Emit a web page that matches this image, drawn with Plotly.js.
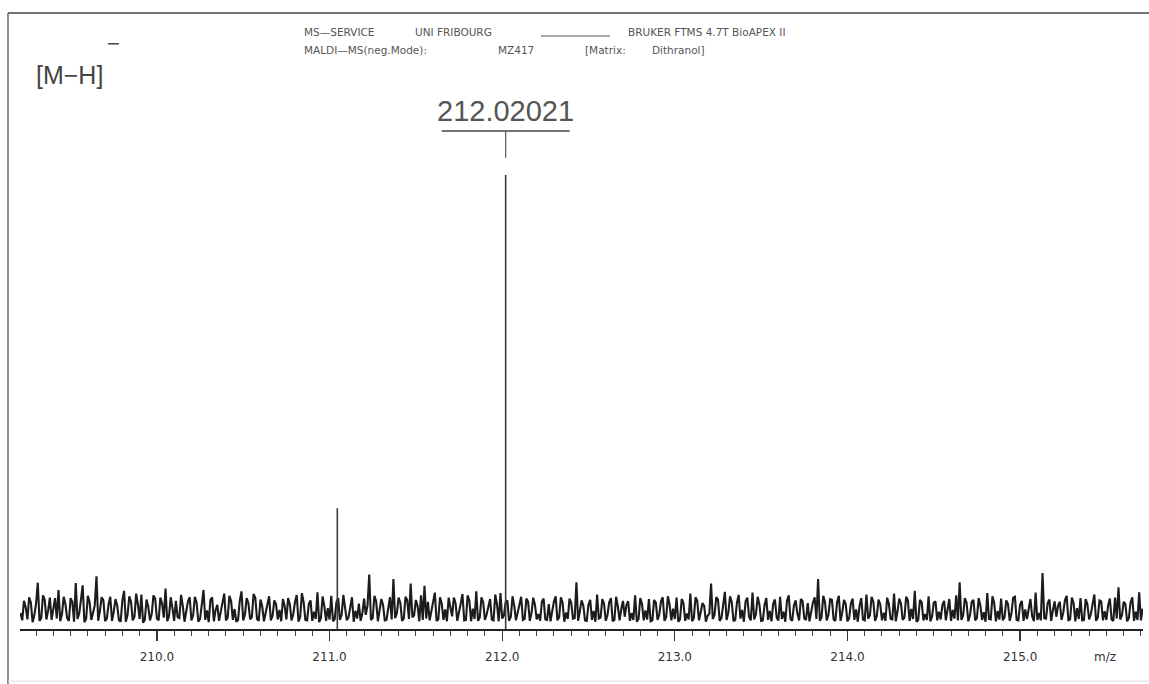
<!DOCTYPE html>
<html>
<head>
<meta charset="utf-8">
<script src="https://cdn.plot.ly/plotly-3.0.1.min.js"></script>
<style>html,body{margin:0;padding:0;background:#fff;}#chart{width:1149px;height:684px;}</style>
</head>
<body>
<div id="chart"></div>
<script>
// ---- data ----
// baseline noise: samples every 0.02 m/z from 209.21, plus the samples in between (209.22, 209.24, ...)
const mzStart = 209.21;
const mzStep = 0.02;
const noise = [
  3.5,6.2,2.1,5.8,3.0,10.2,2.4,6.5,4.1,2.0,6.8,8.6,3.2,5.5,1.8,6.0,10.1,3.4,9.6,2.2,5.9,3.6,11.6,4.0,6.3,
  2.3,7.1,3.8,5.2,1.6,8.4,3.1,6.0,2.7,5.4,7.6,2.0,4.9,3.3,6.7,1.9,5.6,8.9,2.8,4.6,6.2,2.4,5.1,3.9,7.0,
  3.0,5.8,2.2,8.6,4.1,6.4,1.7,5.3,3.6,7.8,2.5,6.1,4.4,2.0,8.3,3.2,5.7,2.6,6.9,1.8,5.0,3.7,7.2,2.9,5.5,
  4.2,6.6,2.1,5.4,3.3,7.5,2.7,5.9,1.9,6.3,3.8,8.1,2.4,5.0,4.6,7.3,2.2,6.8,3.1,5.2,2.6,7.0,4.0,5.6,3.4,
  3.1,12.0,2.4,6.1,3.9,5.3,2.0,7.0,11.0,3.5,5.8,2.3,6.4,10.0,3.0,5.1,7.4,9.5,6.0,3.7,8.0,2.1,5.6,4.3,6.9,
  2.8,5.7,3.4,7.7,2.0,6.2,4.5,8.3,2.5,5.9,3.2,6.6,1.9,5.4,7.9,3.0,6.3,2.7,5.1,3.8,7.1,2.2,6.0,3.5,5.3,
  3.3,6.0,2.1,5.5,4.2,7.2,2.6,5.8,3.6,6.7,2.3,10.3,3.9,5.2,1.8,6.4,4.0,7.6,2.5,5.6,3.1,6.8,2.0,5.0,4.4,
  2.7,6.1,3.5,7.4,2.2,5.5,4.1,6.6,1.9,5.8,3.2,7.0,2.6,5.3,4.5,6.9,2.1,5.7,3.4,7.8,2.4,6.2,3.7,5.1,2.9,
  10.0,3.1,6.5,2.4,8.2,3.6,5.9,2.0,7.5,4.2,6.1,2.7,8.0,3.3,5.4,1.9,6.8,4.0,5.6,2.5,7.1,3.8,6.3,2.2,5.2,
  3.4,6.6,2.3,5.7,4.1,7.0,11.0,2.6,5.9,3.2,6.4,1.8,7.3,3.7,5.5,2.4,6.7,4.3,5.1,2.1,7.6,3.0,6.0,2.8,5.4,
  3.6,6.9,2.2,7.8,3.9,5.6,2.5,6.3,4.4,8.4,2.0,5.9,3.3,7.2,2.7,6.1,3.8,5.3,1.9,6.6,4.2,7.4,10.3,2.9,5.8,
  3.1,6.4,2.4,5.2,3.7,7.9,2.1,5.8,4.0,6.7,2.6,5.5,3.4,7.1,1.9,6.2,4.3,5.0,2.8,8.0,3.5,12.3,2.3,6.5,4.1,
  2.7,6.0,3.6,7.3,2.2,5.7,4.6,6.8,2.0,5.4,3.3,7.6,2.5,6.1,3.9,5.2,2.1,6.9,9.2,3.0,5.5,2.4,7.0,3.8,8.1,
  4.5
];
const noiseMid = [
  1.9,4.8,7.0,1.5,5.6,1.8,7.4,2.1,6.9,4.5,2.3,1.7,7.1,2.4,6.8,1.6,2.2,6.4,1.5,7.3,2.0,5.2,1.8,7.0,1.7,
  5.4,1.8,6.6,2.0,6.3,1.6,7.2,1.9,7.8,2.2,1.4,6.5,1.9,7.4,2.3,6.9,2.5,1.7,7.0,1.8,2.6,7.5,1.6,6.1,1.9,
  7.1,1.6,5.9,2.0,1.5,7.0,4.2,1.8,5.7,1.9,7.3,2.0,1.6,6.2,1.9,6.8,2.1,7.7,2.2,6.5,1.7,5.4,1.9,6.3,2.1,
  1.7,5.1,6.8,1.9,6.0,1.6,7.9,2.0,5.5,1.8,2.2,1.5,7.2,1.8,2.1,1.7,5.9,2.0,7.5,1.9,5.3,1.6,2.3,1.8,6.7,
  5.2,2.0,7.3,1.7,6.6,1.9,5.0,2.1,2.4,6.9,1.8,7.1,2.2,2.6,6.4,1.7,2.0,2.3,1.9,6.2,1.8,7.0,2.0,1.7,4.8,
  6.9,1.8,5.6,1.9,7.4,1.7,2.2,1.8,7.0,2.0,5.3,2.1,7.6,1.7,2.3,5.9,1.8,7.2,1.9,5.5,2.0,6.7,1.8,6.9,2.1,
  1.8,6.7,2.0,1.7,6.1,1.9,7.0,1.6,2.2,5.8,2.4,1.8,6.3,1.9,5.4,2.0,1.6,2.3,6.6,1.8,5.9,1.7,7.1,1.9,6.2,
  5.3,1.8,2.0,1.6,6.8,1.9,2.1,1.7,6.4,2.0,6.1,1.8,7.2,1.9,2.2,1.6,6.6,1.8,2.1,1.7,7.0,1.9,5.7,1.6,3.4,
  2.2,7.0,1.8,6.1,2.0,7.2,1.7,5.8,2.3,1.6,6.9,1.9,2.1,7.1,1.8,5.3,2.0,1.7,6.5,1.9,2.2,1.6,7.4,1.8,6.3,
  1.9,6.2,2.0,1.7,5.8,2.2,1.8,7.3,1.9,6.6,2.1,5.9,1.8,6.4,1.7,5.6,2.0,1.6,6.8,1.9,2.3,7.1,1.8,6.5,1.9,
  1.8,5.5,2.1,1.7,6.7,2.0,7.1,1.8,2.2,1.6,6.4,1.9,2.0,1.7,5.8,1.9,2.1,6.2,4.9,1.8,2.3,1.9,2.0,6.8,1.7,
  6.0,1.9,6.8,2.0,1.6,2.2,7.2,1.7,2.1,1.9,6.3,1.8,6.9,2.0,5.4,1.8,2.2,6.6,1.7,2.0,1.9,2.4,5.7,1.8,6.1,
  5.1,2.0,6.4,1.8,6.9,1.7,2.2,1.9,6.6,2.1,5.8,1.8,6.3,1.9,2.0,6.7,1.8,2.3,2.1,6.0,1.7,5.9,1.8,2.0,1.9
];
// resolved peaks (m/z, relative intensity)
const peakMz = [211.045, 212.02021];
const peakInt = [26.6, 100];
const labelText = "212.02021";
// axis
const xRange = [209.207, 215.712];
const tickVals = [210, 211, 212, 213, 214, 215];
const tickText = ["210.0", "211.0", "212.0", "213.0", "214.0", "215.0"];

// ---- build traces ----
const noiseX = [], noiseY = [];
noise.forEach((v, i) => {
  noiseX.push(mzStart + i * mzStep); noiseY.push(v);
  if (i < noiseMid.length) { noiseX.push(mzStart + (i + 0.5) * mzStep); noiseY.push(noiseMid[i]); }
});
const stickX = [], stickY = [];
peakMz.forEach((m, i) => { stickX.push(m, m, null); stickY.push(0, peakInt[i], null); });

const traces = [
  {x: noiseX, y: noiseY, type: 'scatter', mode: 'lines',
   line: {color: '#1c1c1c', width: 2.1}, hoverinfo: 'skip', showlegend: false},
  {x: stickX, y: stickY, type: 'scatter', mode: 'lines',
   line: {color: '#3a3a3a', width: 1.6}, hoverinfo: 'skip', showlegend: false}
];

const txtFont = {family: 'DejaVu Sans, Liberation Sans, sans-serif', size: 10.5, color: '#555'};
const layout = {
  width: 1149, height: 684,
  margin: {l: 20, r: 6, t: 150, b: 55, pad: 0},
  paper_bgcolor: '#ffffff', plot_bgcolor: '#ffffff',
  showlegend: false,
  xaxis: {
    range: xRange, showgrid: false, zeroline: false,
    showline: true, linecolor: '#222', linewidth: 1.6,
    ticks: 'outside', ticklen: 10, tickwidth: 1.2, tickcolor: '#333',
    tickvals: tickVals, ticktext: tickText,
    ticklabelstandoff: 6,
    tickfont: {family: 'DejaVu Sans, Liberation Sans, sans-serif', size: 12, color: '#333'},
    minor: {dtick: 0.1, tick0: 210, ticks: 'outside', ticklen: 5, tickwidth: 1, tickcolor: '#444'}
  },
  yaxis: {visible: false, range: [0, 105.5], fixedrange: true},
  shapes: [
    // frame lines of the printed page
    {type: 'line', xref: 'paper', yref: 'paper', x0: -0.0107, x1: 1.006, y0: 1.286, y1: 1.286,
     line: {color: '#444', width: 1.5}},
    {type: 'line', xref: 'paper', yref: 'paper', x0: -0.0107, x1: -0.0107, y0: 1.286, y1: -0.115,
     line: {color: '#555', width: 1.3}},
    {type: 'line', xref: 'paper', yref: 'paper', x0: -0.0107, x1: 1.006, y0: -0.109, y1: -0.109,
     line: {color: '#ddd', width: 1}},
    // label underline and leader tick for the main peak
    {type: 'line', xref: 'x', yref: 'paper', xsizemode: 'pixel', xanchor: peakMz[1], x0: -64, x1: 64,
     y0: 1.0397, y1: 1.0397, line: {color: '#444', width: 1.5}},
    {type: 'line', xref: 'x', yref: 'paper', x0: peakMz[1], x1: peakMz[1], y0: 1.0397, y1: 0.984,
     line: {color: '#555', width: 1.2}},
    // header blank line
    {type: 'line', xref: 'paper', yref: 'paper', x0: 0.4639, x1: 0.5254, y0: 1.238, y1: 1.238,
     line: {color: '#555', width: 1}}
  ],
  annotations: [
    {text: labelText, xref: 'x', yref: 'paper', x: peakMz[1], y: 1.044, xanchor: 'center', yanchor: 'bottom',
     showarrow: false, font: {family: 'Liberation Sans, sans-serif', size: 29, color: '#555'}},
    {text: '[M−H]', xref: 'paper', yref: 'paper', x: 0.0125, y: 1.157, xanchor: 'left', yanchor: 'middle',
     showarrow: false, font: {family: 'Liberation Sans, sans-serif', size: 25, color: '#444'}},
    {text: '−', xref: 'paper', yref: 'paper', x: 0.0755, y: 1.222, xanchor: 'left', yanchor: 'middle',
     showarrow: false, font: {family: 'Liberation Sans, sans-serif', size: 22, color: '#444'}},
    {text: 'MS—SERVICE', xref: 'paper', yref: 'paper', x: 0.2511, y: 1.2463, xanchor: 'left', yanchor: 'middle', showarrow: false, font: txtFont},
    {text: 'UNI FRIBOURG', xref: 'paper', yref: 'paper', x: 0.3499, y: 1.2463, xanchor: 'left', yanchor: 'middle', showarrow: false, font: txtFont},
    {text: 'BRUKER FTMS 4.7T BioAPEX II', xref: 'paper', yref: 'paper', x: 0.5396, y: 1.2463, xanchor: 'left', yanchor: 'middle', showarrow: false, font: txtFont},
    {text: 'MALDI—MS(neg.Mode):', xref: 'paper', yref: 'paper', x: 0.2511, y: 1.2088, xanchor: 'left', yanchor: 'middle', showarrow: false, font: txtFont},
    {text: 'MZ417', xref: 'paper', yref: 'paper', x: 0.4239, y: 1.2088, xanchor: 'left', yanchor: 'middle', showarrow: false, font: txtFont},
    {text: '[Matrix:', xref: 'paper', yref: 'paper', x: 0.5013, y: 1.2088, xanchor: 'left', yanchor: 'middle', showarrow: false, font: txtFont},
    {text: 'Dithranol]', xref: 'paper', yref: 'paper', x: 0.5610, y: 1.2088, xanchor: 'left', yanchor: 'middle', showarrow: false, font: txtFont},
    {text: 'm/z', xref: 'paper', yref: 'paper', x: 0.966, y: -0.058, xanchor: 'center', yanchor: 'middle',
     showarrow: false, font: {family: 'DejaVu Sans, Liberation Sans, sans-serif', size: 12, color: '#333'}}
  ]
};

Plotly.newPlot('chart', traces, layout, {staticPlot: true, displayModeBar: false});
</script>
</body>
</html>
